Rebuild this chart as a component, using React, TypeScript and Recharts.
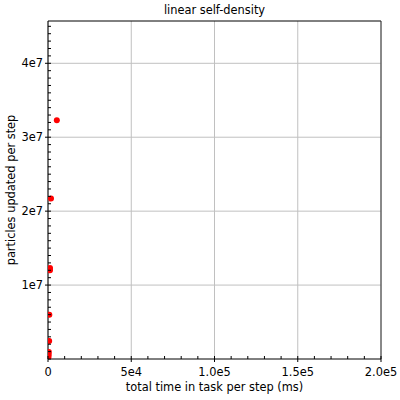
import React from 'react';
import { ScatterChart, Scatter, XAxis, YAxis, CartesianGrid, ReferenceLine } from 'recharts';

const xTimeMs = [5300, 1800, 1200, 1200, 800, 700, 500, 400, 300, 200];
const yParticles = [32300000, 21700000, 12300000, 12000000, 6000000, 2450000, 950000, 600000, 350000, 100000];

const xMajorTicks = [0, 50000, 100000, 150000, 200000];
const xMajorLabels = ['0', '5e4', '1.0e5', '1.5e5', '2.0e5'];
const yMajorTicks = [10000000, 20000000, 30000000, 40000000];
const yMajorLabels = ['1e7', '2e7', '3e7', '4e7'];
const xMinorTicks = Array.from({ length: 21 }, (_, i) => i * 10000);
const yMinorTicks = Array.from({ length: 46 }, (_, i) => i * 1000000);

const X_MAX = 200000;
const Y_MAX = 45720000;

const title = 'linear self-density';
const xTitle = 'total time in task per step (ms)';
const yTitle = 'particles updated per step';

const data = xTimeMs.map((x, i) => ({ x, y: yParticles[i] }));

const FONT = 'DejaVu Sans';
const FS = 11.4;

const XTick = (props: any) => {
  const { x, y, payload } = props;
  const idx = xMajorTicks.indexOf(payload.value);
  if (idx >= 0) {
    return (
      <g>
        <line x1={x} x2={x} y1={y - 3} y2={y + 3} stroke="#000" />
        <text x={x} y={y + 17} textAnchor="middle" fontFamily={FONT} fontSize={FS} fill="#000">
          {xMajorLabels[idx]}
        </text>
      </g>
    );
  }
  return <line x1={x} x2={x} y1={y} y2={y - 3} stroke="#000" />;
};

const YTick = (props: any) => {
  const { x, y, payload } = props;
  const idx = yMajorTicks.indexOf(payload.value);
  if (idx >= 0) {
    return (
      <g>
        <line x1={x - 3} x2={x + 3} y1={y} y2={y} stroke="#000" />
        <text x={x - 5} y={y + 4} textAnchor="end" fontFamily={FONT} fontSize={FS} fill="#000">
          {yMajorLabels[idx]}
        </text>
      </g>
    );
  }
  return <line x1={x} x2={x + 3} y1={y} y2={y} stroke="#000" />;
};

const Dot = (props: any) => <circle cx={props.cx} cy={props.cy} r={3} fill="#ff0000" />;

export default function App() {
  return (
    <div style={{ position: 'absolute', left: 0, top: 0, width: 400, height: 400, background: '#fff' }}>
      <ScatterChart width={400} height={400} margin={{ top: 21, right: 19, bottom: 40, left: 47 }}>
        <CartesianGrid
          stroke="#c0c0c0"
          verticalValues={xMajorTicks}
          horizontalValues={yMajorTicks}
        />
        <ReferenceLine y={Y_MAX} stroke="#000" ifOverflow="visible" />
        <ReferenceLine x={X_MAX} stroke="#333" ifOverflow="visible" />
        <XAxis
          type="number"
          dataKey="x"
          domain={[0, X_MAX]}
          ticks={xMinorTicks}
          interval={0}
          height={1}
          tickSize={0}
          tickMargin={0}
          tickLine={false}
          tick={XTick}
          stroke="#000"
          allowDataOverflow
        />
        <YAxis
          type="number"
          dataKey="y"
          domain={[0, Y_MAX]}
          ticks={yMinorTicks}
          interval={0}
          width={1}
          tickSize={0}
          tickMargin={0}
          tickLine={false}
          tick={YTick}
          stroke="#000"
          allowDataOverflow
        />
        <Scatter data={data} fill="#ff0000" shape={Dot} isAnimationActive={false} />
      </ScatterChart>
      <svg width={400} height={400} style={{ position: 'absolute', left: 0, top: 0, pointerEvents: 'none' }}>
        <text x={214.5} y={14} textAnchor="middle" fontFamily={FONT} fontSize={FS} fill="#000">{title}</text>
        <text x={214.5} y={391} textAnchor="middle" fontFamily={FONT} fontSize={FS} fill="#000">{xTitle}</text>
        <text x={0} y={0} transform="translate(15,190) rotate(-90)" textAnchor="middle" fontFamily={FONT} fontSize={FS} fill="#000">{yTitle}</text>
      </svg>
    </div>
  );
}
